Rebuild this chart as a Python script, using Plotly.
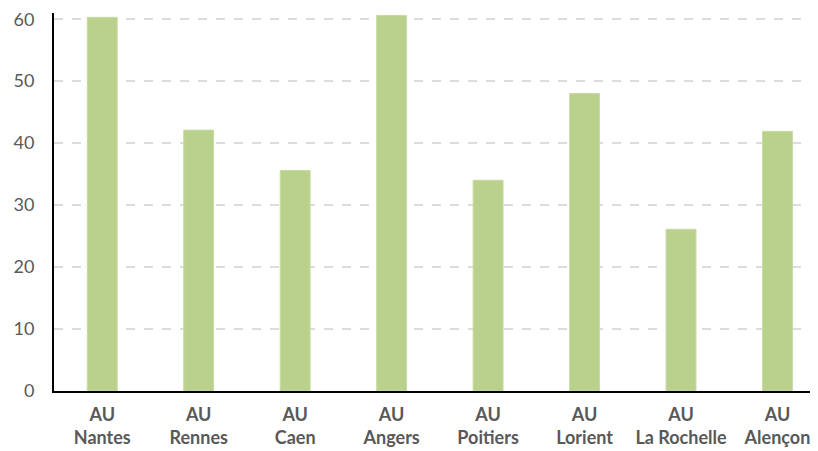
import plotly.graph_objects as go

categories = ["AU<br>Nantes", "AU<br>Rennes", "AU<br>Caen", "AU<br>Angers",
              "AU<br>Poitiers", "AU<br>Lorient", "AU<br>La Rochelle", "AU<br>Alençon"]
values = [60.3, 42.1, 35.6, 60.6, 34.0, 48.0, 26.1, 41.9]
y_ticks = [0, 10, 20, 30, 40, 50, 60]

fig = go.Figure(go.Bar(
    x=list(range(len(categories))), y=values,
    marker=dict(color="#b9d18c", line=dict(color="#c6dba0", width=1)),
))

# page body has an 8px margin, so the figure is sized to fit the visible window
fig.update_layout(
    width=810, height=443,
    margin=dict(l=46, r=0, t=5, b=60),
    plot_bgcolor="white", paper_bgcolor="white",
    bargap=0.69, showlegend=False,
    font=dict(family="Lato, Open Sans, sans-serif", color="#595959"),
)
fig.update_xaxes(
    tickmode="array", tickvals=list(range(len(categories))), ticktext=categories,
    range=[-0.5, 7.42], showgrid=False, showline=True, linecolor="black", linewidth=2,
    tickfont=dict(size=18, color="#595959", family="Lato, sans-serif", weight="bold"),
    ticks="", zeroline=False, automargin=False, ticklabelstandoff=6,
    ticklabeloverflow="allow",
)
fig.update_yaxes(
    range=[0, 61], tickvals=y_ticks, showgrid=True, gridcolor="#dcdcdc", griddash="dash",
    gridwidth=1.5, showline=True, linecolor="black", linewidth=2, zeroline=False,
    tickfont=dict(size=18, color="#595959"), ticks="", ticklabelstandoff=14,
    automargin=False, ticklabeloverflow="allow",
)

fig.write_html("out.html")
